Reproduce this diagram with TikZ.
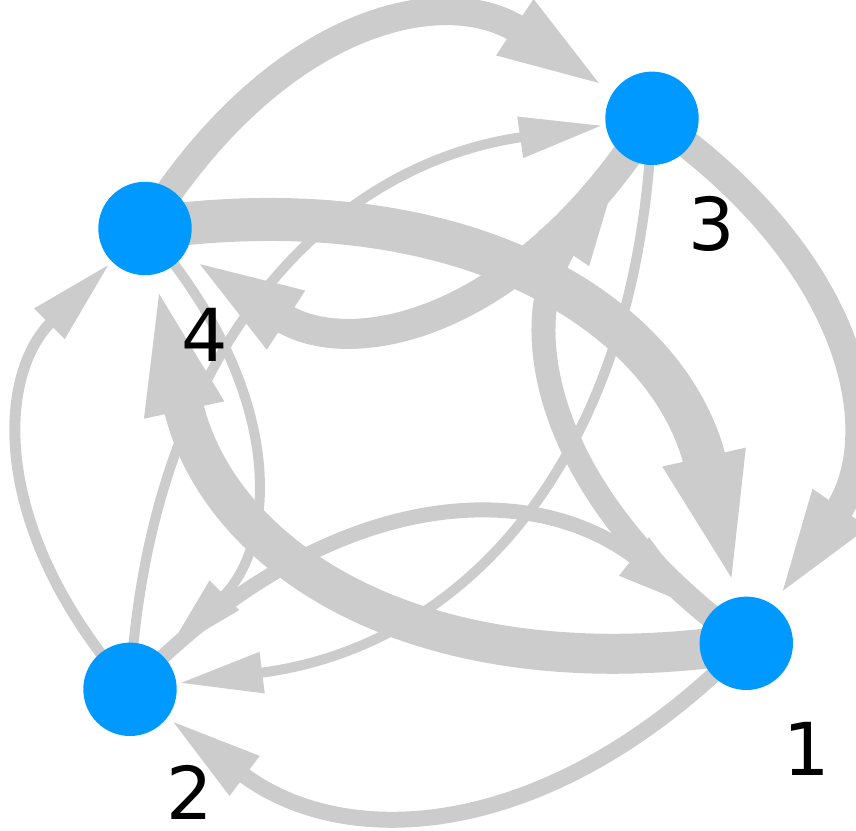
\documentclass[tikz,border=0pt]{standalone}
\usepackage{fontspec}
\setmainfont{DejaVu Sans}
\usetikzlibrary{arrows.meta,calc}
\definecolor{nodeblue}{RGB}{0,153,255}
\definecolor{edgegray}{RGB}{204,204,204}
\pgfdeclarelayer{bg}
\pgfsetlayers{bg,main}
% #1 source, #2 target, #3 = 2*rad, #4 = line width (px)
\newcommand\myedge[4]{%
  \coordinate (c#1#2) at ($(n#1)!0.5!(n#2)!#3!90:(n#2)$);
  \draw[edgeline, line width=#4pt] (n#1.center) .. controls ($(n#1)!0.6667!(c#1#2)$) and ($(n#2)!0.6667!(c#1#2)$) .. (n#2);
}
\begin{document}
\begin{tikzpicture}[x=1pt,y=-1pt,
  vert/.style={circle, fill=nodeblue, minimum size=93.4pt, inner sep=0pt, outer sep=3pt},
  lbl/.style={font=\fontsize{73}{80}\selectfont, inner sep=0pt, text=black},
  edgeline/.style={draw=edgegray, -{Triangle[length=66pt 1.75, width=29pt 1, color=edgegray]}}]
\useasboundingbox (0,0) rectangle (856,830);
\clip (0,0) rectangle (856,830);
\node[vert] (n1) at (746.3,643.3) {};
\node[vert] (n2) at (130,689.3) {};
\node[vert] (n3) at (652,118.3) {};
\node[vert] (n4) at (145,228.5) {};
\node[lbl] (l1) at ($(n1)+(60,106)$) {1};
\node[lbl] (l2) at ($(n2)+(60,103)$) {2};
\node[lbl] (l3) at ($(n3)+(60,106)$) {3};
\node[lbl] (l4) at ($(n4)+(60,106)$) {4};
\begin{pgfonlayer}{bg}
\myedge{4}{3}{1.03}{28}
\myedge{3}{4}{1.01}{30}
\myedge{4}{1}{0.92}{43}
\myedge{1}{4}{0.94}{40}
\myedge{3}{1}{1.0}{28}
\myedge{1}{3}{0.975}{24}
\myedge{2}{4}{0.94}{11}
\myedge{4}{2}{0.94}{10}
\myedge{2}{3}{0.82}{10}
\myedge{3}{2}{0.85}{10}
\myedge{2}{1}{0.9}{15}
\myedge{1}{2}{0.88}{16}
\end{pgfonlayer}
\end{tikzpicture}
\end{document}
